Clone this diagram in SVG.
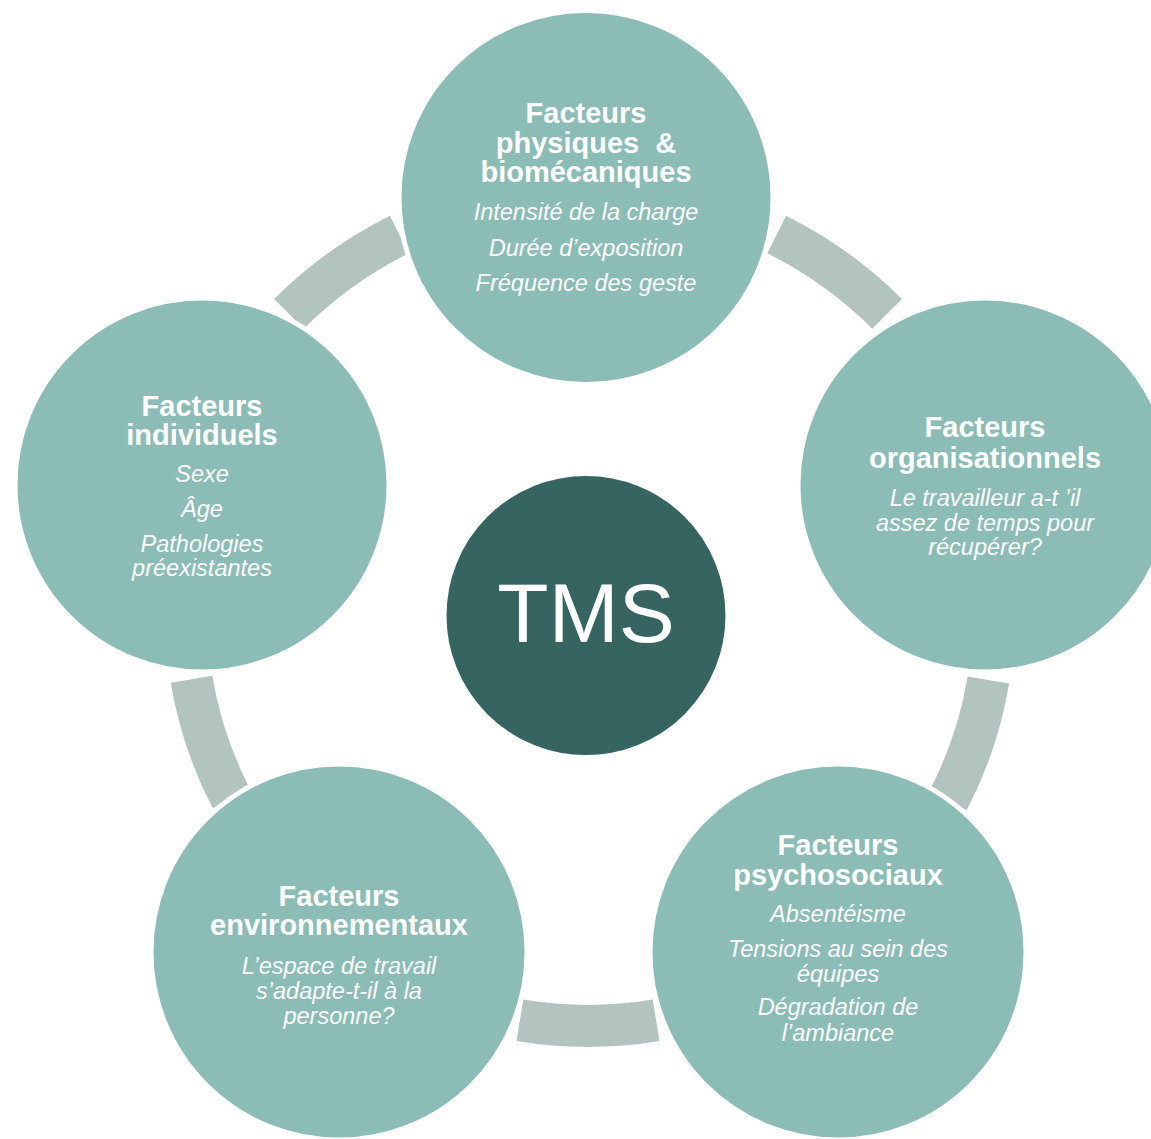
<svg xmlns="http://www.w3.org/2000/svg" width="1151" height="1139" viewBox="0 0 1151 1139">
<style>
.node{fill:#8BBCB6;stroke:#FFFFFF;stroke-width:5}
.core{fill:#366561;stroke:#FFFFFF;stroke-width:5}
.seg{fill:none;stroke:#B3C4C0;stroke-width:42;stroke-linecap:butt}
.t{font-family:"Liberation Sans",Arial,sans-serif;font-weight:bold;font-size:29px;fill:#FFFFFF;text-anchor:middle}
.i{font-family:"Liberation Sans",Arial,sans-serif;font-style:italic;font-size:23.5px;fill:#FFFFFF;text-anchor:middle}
.c{font-family:"Liberation Sans",Arial,sans-serif;font-size:84px;fill:#FFFFFF;text-anchor:middle}
</style>
<rect width="1151" height="1139" fill="#FFFFFF"/>
<g id="connectors">
<path class="seg" d="M 988.4 680.0 A 406 406 0 0 1 948.1 800.5"/>
<path class="seg" d="M 656.1 1020.3 A 413 413 0 0 1 519.9 1020.3"/>
<path class="seg" d="M 231.4 798.6 A 402 402 0 0 1 191.5 679.3"/>
<path class="seg" d="M 288.9 313.9 A 423 423 0 0 1 399.3 234.5"/>
<path class="seg" d="M 776.7 234.5 A 423 423 0 0 1 887.1 313.9"/>
</g>
<g id="node-top">
<circle class="node" cx="586" cy="197.5" r="187"/>
<text class="t" x="586" y="123">Facteurs</text>
<text class="t" x="586" y="153" xml:space="preserve">physiques  &amp;</text>
<text class="t" x="586" y="182">biomécaniques</text>
<text class="i" x="586" y="220">Intensité de la charge</text>
<text class="i" x="586" y="255.5">Durée d’exposition</text>
<text class="i" x="586" y="290.5">Fréquence des geste</text>
</g>
<g id="node-right">
<circle class="node" cx="985" cy="485" r="187"/>
<text class="t" x="985" y="437">Facteurs</text>
<text class="t" x="985" y="467.5">organisationnels</text>
<text class="i" x="985" y="506">Le travailleur a-t ’il</text>
<text class="i" x="985" y="530.5">assez de temps pour</text>
<text class="i" x="985" y="555">récupérer?</text>
</g>
<g id="node-left">
<circle class="node" cx="202" cy="485" r="187"/>
<text class="t" x="202" y="416">Facteurs</text>
<text class="t" x="202" y="445">individuels</text>
<text class="i" x="202" y="481.5">Sexe</text>
<text class="i" x="202" y="517">Âge</text>
<text class="i" x="202" y="551.5">Pathologies</text>
<text class="i" x="202" y="576">préexistantes</text>
</g>
<g id="node-bottom-right">
<circle class="node" cx="838" cy="952" r="188"/>
<text class="t" x="838" y="855">Facteurs</text>
<text class="t" x="838" y="885">psychosociaux</text>
<text class="i" x="838" y="921.5">Absentéisme</text>
<text class="i" x="838" y="956.5">Tensions au sein des</text>
<text class="i" x="838" y="981.5">équipes</text>
<text class="i" x="838" y="1015">Dégradation de</text>
<text class="i" x="838" y="1040.5">l’ambiance</text>
</g>
<g id="node-bottom-left">
<circle class="node" cx="339" cy="952" r="188"/>
<text class="t" x="339" y="906">Facteurs</text>
<text class="t" x="339" y="935">environnementaux</text>
<text class="i" x="339" y="974">L’espace de travail</text>
<text class="i" x="339" y="999">s’adapte-t-il à la</text>
<text class="i" x="339" y="1024">personne?</text>
</g>
<g id="node-center">
<circle class="core" cx="586" cy="615.5" r="142"/>
<text class="c" x="586" y="642">TMS</text>
</g>
</svg>
